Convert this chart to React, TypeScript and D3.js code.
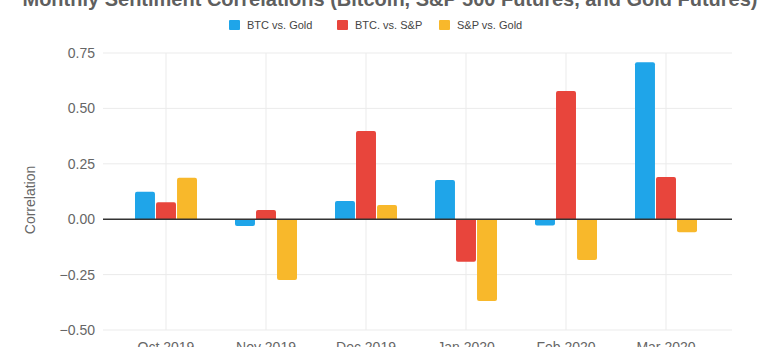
import React from "react";
import * as d3 from "d3";

const months = ["Oct 2019", "Nov 2019", "Dec 2019", "Jan 2020", "Feb 2020", "Mar 2020"];
const seriesNames = ["BTC vs. Gold", "BTC. vs. S&P", "S&P vs. Gold"];
const btcGold = [0.124, -0.031, 0.082, 0.177, -0.028, 0.708];
const btcSp = [0.076, 0.042, 0.398, -0.192, 0.579, 0.19];
const spGold = [0.187, -0.274, 0.064, -0.369, -0.184, -0.059];
const yTicks = [-0.5, -0.25, 0, 0.25, 0.5, 0.75];
const colors = ["#1fa5e9", "#e8453c", "#f8b82b"];

const W = 768;
const H = 347;

export default function App() {
  const series = [btcGold, btcSp, spGold];
  const x = d3.scaleBand<string>().domain(months).range([116, 716]).padding(0);
  const xs = d3.scaleBand<number>().domain([0, 1, 2]).range([-31, 31]).paddingInner(0.05);
  const y = d3.scaleLinear().domain([-0.5, 0.75]).range([330, 53]);
  const gridLeft = 103;
  const gridRight = 732;
  const font = "Liberation Sans, Arial, Helvetica, sans-serif";

  const barPath = (x0: number, w: number, v: number) => {
    const y0 = y(0);
    const y1 = y(v);
    const r = Math.min(2, Math.abs(y1 - y0));
    if (v >= 0) {
      return `M${x0},${y0}V${y1 + r}Q${x0},${y1} ${x0 + r},${y1}H${x0 + w - r}Q${x0 + w},${y1} ${x0 + w},${y1 + r}V${y0}Z`;
    }
    return `M${x0},${y0}V${y1 - r}Q${x0},${y1} ${x0 + r},${y1}H${x0 + w - r}Q${x0 + w},${y1} ${x0 + w},${y1 - r}V${y0}Z`;
  };

  const legendX = [229, 337, 439];

  return (
    <svg
      width={W}
      height={H}
      style={{ position: "absolute", left: 0, top: 0, background: "#fff" }}
      fontFamily={font}
    >
      <rect x={0} y={0} width={W} height={H} fill="#fff" />
      <text
        x={390}
        y={6}
        textAnchor="middle"
        fontSize={21}
        fontWeight="bold"
        fill="#5f5f5f"
        textLength={735}
        lengthAdjust="spacingAndGlyphs"
      >
        Monthly Sentiment Correlations (Bitcoin, S&amp;P 500 Futures, and Gold Futures)
      </text>

      {seriesNames.map((n, i) => (
        <g key={n}>
          <rect x={legendX[i]} y={20} width={11} height={10} fill={colors[i]} rx={1} />
          <text x={legendX[i] + 18} y={29} fontSize={11} fill="#444">
            {n}
          </text>
        </g>
      ))}

      {yTicks.map((t) => (
        <g key={t}>
          {t !== 0 && (
            <line x1={gridLeft} x2={gridRight} y1={y(t)} y2={y(t)} stroke="#ebebeb" strokeWidth={1} />
          )}
          <text x={95} y={y(t) + 5} textAnchor="end" fontSize={14} fill="#666">
            {d3.format(".2f")(t)}
          </text>
        </g>
      ))}

      {months.map((m) => (
        <line
          key={m}
          x1={(x(m) as number) + x.bandwidth() / 2}
          x2={(x(m) as number) + x.bandwidth() / 2}
          y1={y(0.75)}
          y2={y(-0.5)}
          stroke="#ebebeb"
          strokeWidth={1}
        />
      ))}

      <text
        transform={`translate(35,${200}) rotate(-90)`}
        textAnchor="middle"
        fontSize={14}
        fill="#666"
      >
        Correlation
      </text>

      {months.map((m, mi) => {
        const cx = (x(m) as number) + x.bandwidth() / 2;
        return series.map((s, si) => (
          <path
            key={m + si}
            d={barPath(cx + (xs(si) as number), xs.bandwidth(), s[mi])}
            fill={colors[si]}
          />
        ));
      })}

      <line x1={gridLeft} x2={gridRight} y1={y(0)} y2={y(0)} stroke="#333" strokeWidth={1.5} />

      {months.map((m) => (
        <text
          key={m}
          x={(x(m) as number) + x.bandwidth() / 2}
          y={352}
          textAnchor="middle"
          fontSize={14}
          fill="#666"
        >
          {m}
        </text>
      ))}
    </svg>
  );
}
